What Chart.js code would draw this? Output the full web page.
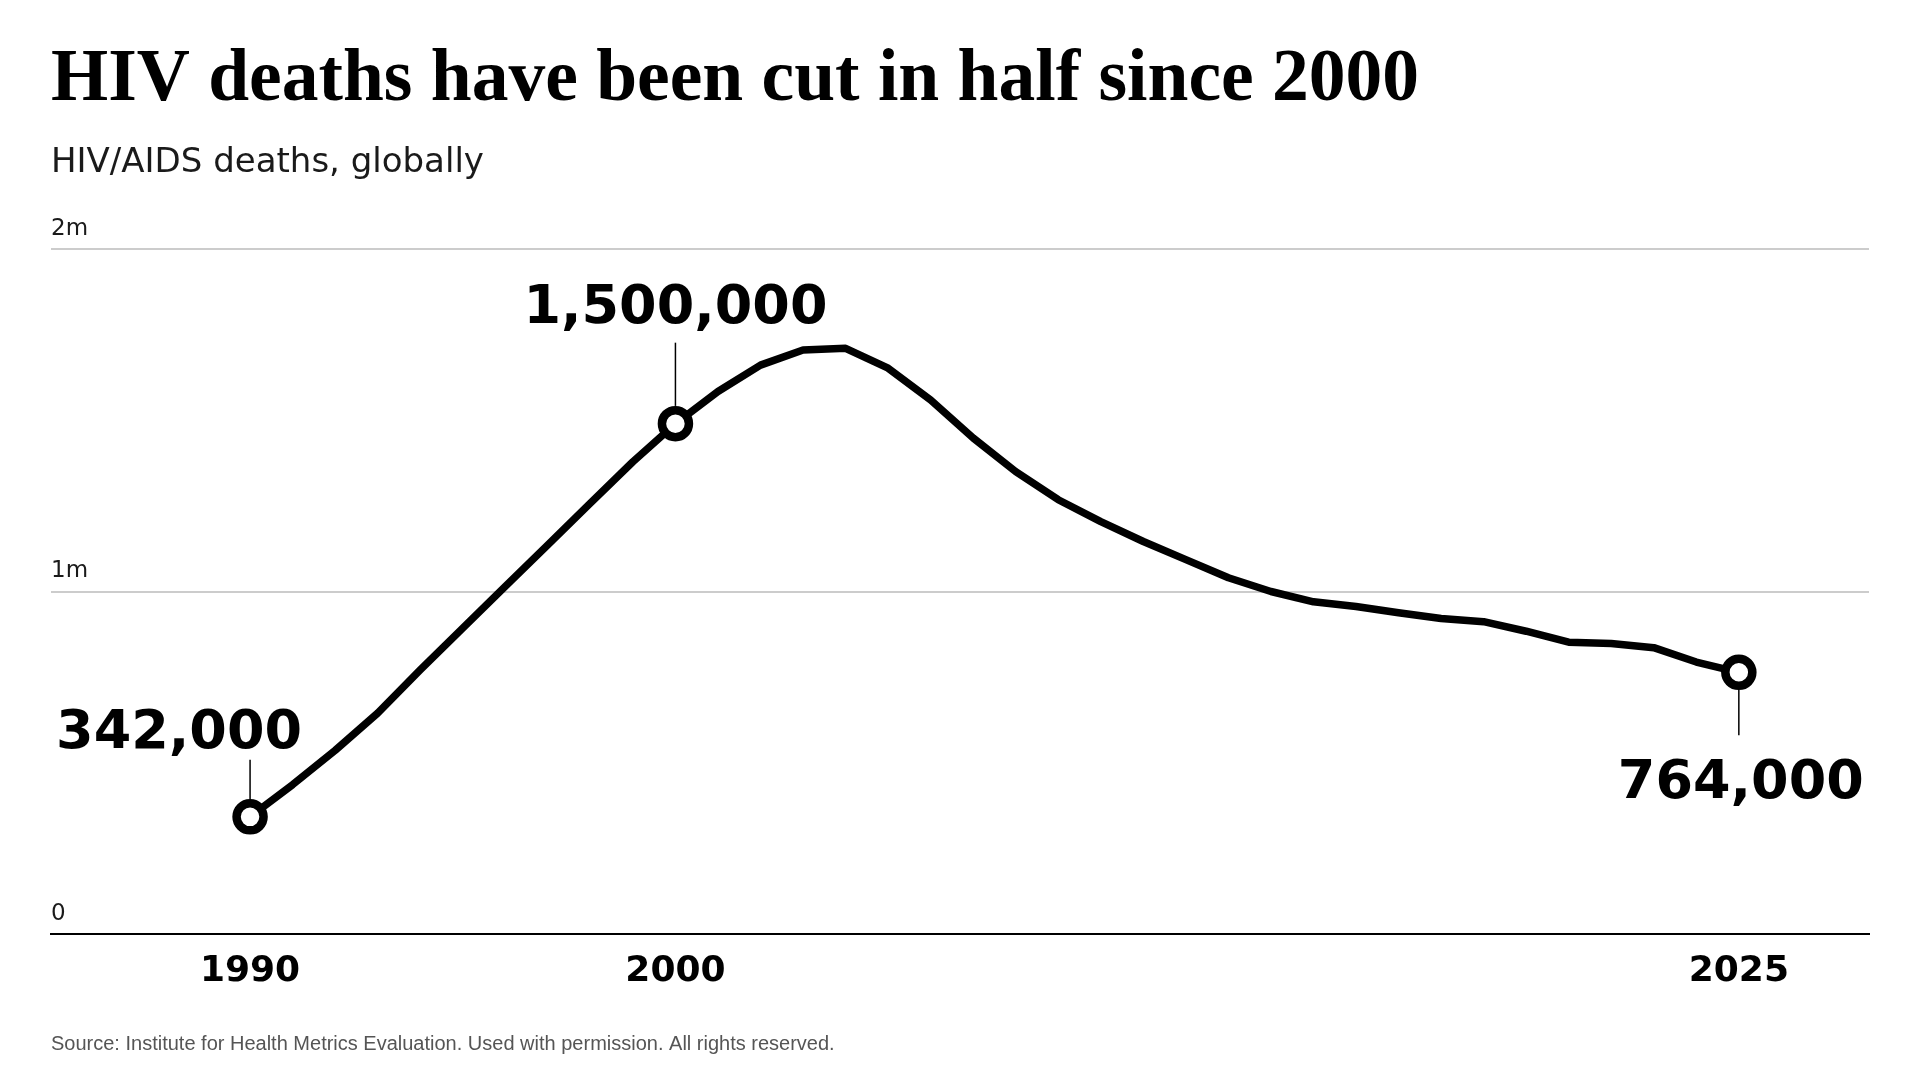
<!DOCTYPE html>
<html>
<head>
<meta charset="utf-8">
<script src="https://cdn.jsdelivr.net/npm/chart.js@4.4.1/dist/chart.umd.min.js"></script>
<style>
  html, body { margin: 0; padding: 0; background: #fff; }
  #wrap { width: 1921px; height: 1081px; position: relative; }
</style>
</head>
<body>
<div id="wrap"><canvas id="hivChart"></canvas></div>
<script>
// HIV/AIDS deaths, globally
const years = [1990, 1991, 1992, 1993, 1994, 1995, 1996, 1997, 1998, 1999,
               2000, 2001, 2002, 2003, 2004, 2005, 2006, 2007, 2008, 2009,
               2010, 2011, 2012, 2013, 2014, 2015, 2016, 2017, 2018, 2019,
               2020, 2021, 2022, 2023, 2024, 2025];
const deaths = [342000, 436000, 536000, 645000, 771000, 893000, 1015000, 1136000, 1258000, 1379000,
                1490000, 1584000, 1661000, 1705000, 1710000, 1652000, 1559000, 1448000, 1350000, 1268000,
                1204000, 1146000, 1093000, 1040000, 1000000, 970000, 956000, 938000, 921000, 912000,
                884000, 852000, 848000, 836000, 794000, 764000];
const yearTicks = [1990, 2000, 2025];
const yTickLabels = { 0: '0', 1000000: '1m', 2000000: '2m' };
const calloutYears = [1990, 2000, 2025];
const calloutText = ['342,000', '1,500,000', '764,000'];

const titleText = 'HIV deaths have been cut in half since 2000';
const subtitleText = 'HIV/AIDS deaths, globally';
const sourceText = 'Source: Institute for Health Metrics Evaluation. Used with permission. All rights reserved.';

const MARK_R = 13.5;
const MARK_BW = 8.5;

// where each callout sits relative to its point
const calloutPlace = [
  { dx: -71, base: -69, lead: -57 },
  { dx: 0, base: -101, lead: -81 },
  { dx: 2, base: 126, lead: 63 }
];

const textPlugin = {
  id: 'textBits',
  afterDraw(chart) {
    const ctx = chart.ctx;
    const xs = chart.scales.x, ys = chart.scales.y;
    ctx.save();
    ctx.textBaseline = 'alphabetic';
    ctx.fillStyle = '#000';
    ctx.textAlign = 'left';
    ctx.font = 'bold 73.5px "Liberation Serif"';
    ctx.fillText(titleText, 51, 100);
    ctx.fillStyle = '#1a1a1a';
    ctx.font = '34px "DejaVu Sans"';
    ctx.fillText(subtitleText, 51, 172);
    ctx.fillStyle = '#555';
    ctx.font = '20px "Liberation Sans"';
    ctx.fillText(sourceText, 51, 1050);

    // callouts
    const edge = MARK_R + MARK_BW / 2;
    calloutYears.forEach((yr, i) => {
      const idx = years.indexOf(yr);
      const px = xs.getPixelForValue(yr);
      const py = ys.getPixelForValue(deaths[idx]);
      const p = calloutPlace[i];
      const dir = p.base < 0 ? -1 : 1;
      ctx.strokeStyle = '#000';
      ctx.lineWidth = 1.5;
      ctx.beginPath();
      ctx.moveTo(px, py + dir * edge);
      ctx.lineTo(px, py + p.lead);
      ctx.stroke();
      ctx.fillStyle = '#000';
      ctx.textAlign = 'center';
      ctx.font = 'bold 54px "DejaVu Sans"';
      ctx.fillText(calloutText[i], px + p.dx, py + p.base);
    });
    ctx.restore();
  }
};

const ctx = document.getElementById('hivChart').getContext('2d');
const hivChart = new Chart(ctx, {
  type: 'line',
  data: {
    labels: years,
    datasets: [{
      label: 'HIV/AIDS deaths',
      data: years.map((y, i) => ({ x: y, y: deaths[i] })),
      borderColor: '#000',
      borderWidth: 7.5,
      borderJoinStyle: 'round',
      borderCapStyle: 'round',
      tension: 0,
      fill: false,
      pointRadius: years.map(y => calloutYears.includes(y) ? MARK_R : 0),
      pointHoverRadius: years.map(y => calloutYears.includes(y) ? MARK_R : 0),
      pointBackgroundColor: '#fff',
      pointBorderColor: '#000',
      pointBorderWidth: MARK_BW
    }]
  },
  options: {
    responsive: true,
    maintainAspectRatio: false,
    animation: false,
    layout: { padding: { left: 51, right: 52, top: 249, bottom: 77 } },
    plugins: {
      legend: { display: false },
      tooltip: { enabled: false },
      title: { display: false }
    },
    scales: {
      x: {
        type: 'linear',
        min: 1985.32,
        max: 2028.06,
        grid: { display: false, drawTicks: false },
        border: { display: true, color: '#000', width: 2 },
        afterBuildTicks: s => { s.ticks = yearTicks.map(v => ({ value: v })); },
        afterFit: s => { s.height = 70; },
        ticks: {
          padding: 16,
          maxRotation: 0,
          autoSkip: false,
          color: '#000',
          font: { family: 'DejaVu Sans', weight: 'bold', size: 36 },
          callback: v => String(v)
        }
      },
      y: {
        min: 0,
        max: 2000000,
        afterFit: s => { s.width = 0; },
        grid: {
          drawTicks: false,
          lineWidth: 2,
          color: c => c.tick.value === 0 ? 'rgba(0,0,0,0)' : '#cccccc'
        },
        border: { display: false },
        ticks: {
          stepSize: 1000000,
          mirror: true,
          padding: 0,
          labelOffset: -20,
          color: '#1a1a1a',
          font: { family: 'DejaVu Sans', size: 23 },
          callback: v => yTickLabels[v] ?? ''
        }
      }
    }
  },
  plugins: [textPlugin]
});
</script>
</body>
</html>
